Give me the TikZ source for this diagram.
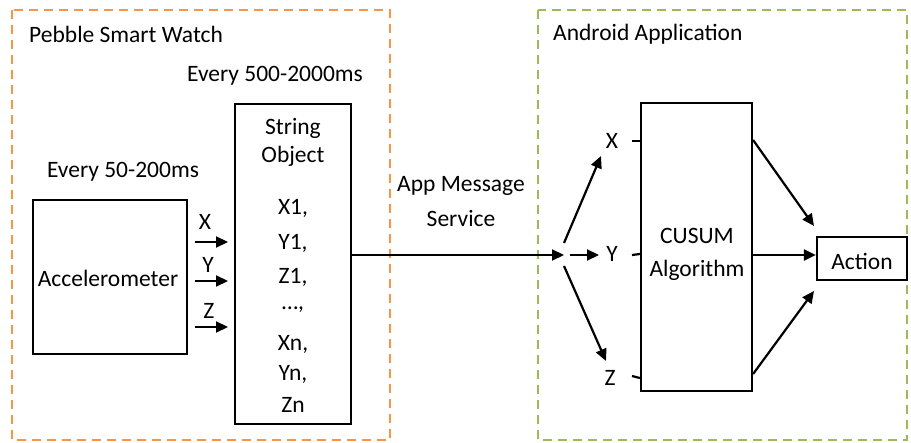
\documentclass[tikz,border=0pt]{standalone}
\usepackage{fontspec}
\setmainfont{Carlito}
\usetikzlibrary{arrows.meta,calc}
\definecolor{orangeb}{HTML}{F79646}
\definecolor{greenb}{HTML}{9BBB59}
\tikzset{
  lbl/.style={inner sep=0pt, font=\fontsize{23.5}{28}\selectfont},
  box/.style={draw, line width=2.2pt, inner sep=0pt},
  arr/.style={line width=2.2pt, -{Triangle[length=12pt,width=11pt]}},
  ln/.style={line width=2.2pt},
  region/.style={line width=2.8pt, dash pattern=on 9pt off 6pt}
}
\begin{document}
\begin{tikzpicture}[x=1pt,y=-1pt]
\useasboundingbox (0,0) rectangle (911,443);
% regions
\draw[region, orangeb] (12,10) rectangle (390,440);
\draw[region, greenb] (538,10) rectangle (907,440);
\node[lbl, anchor=west] (pebble) at (29,34) {Pebble Smart Watch};
\node[lbl, anchor=west] (android) at (553,34) {Android Application};
% left part
\node[lbl] (every500) at (275,76) {Every 500-2000ms};
\node[lbl] (every50) at (123,172) {Every 50-200ms};
\node[box, minimum width=154pt, minimum height=154pt] (acc) at (110,277) {};
\node[lbl] (acctxt) at (108,278) {Accelerometer};
\node[box, minimum width=116pt, minimum height=320pt] (str) at (293,264) {};
\node[lbl] (s1) at (293,128) {String};
\node[lbl] (s2) at (293,156) {Object};
\node[lbl] (s3) at (293,208) {X1,};
\node[lbl] (s4) at (293,243) {Y1,};
\node[lbl] (s5) at (293,277) {Z1,};
\node[lbl] (s6) at (293,310) {\ldots,};
\node[lbl] (s7) at (293,344) {Xn,};
\node[lbl] (s8) at (293,374) {Yn,};
\node[lbl] (s9) at (293,405) {Zn};
\node[lbl] (lx) at (205,222) {X};
\node[lbl] (ly) at (208,265) {Y};
\node[lbl] (lz) at (209,311) {Z};
\coordinate (ax) at (195,242);
\coordinate (ay) at (195,281);
\coordinate (az) at (195,327);
\draw[arr] (ax) -- (ax -| {(228,0)});
\draw[arr] (ay) -- (ay -| {(228,0)});
\draw[arr] (az) -- (az -| {(228,0)});
% middle
\node[lbl] (app1) at (461,186) {App Message};
\node[lbl] (app2) at (461,218) {Service};
\coordinate (fork) at (564,255);
\draw[arr] (fork -| str.east) -- (fork);
% right part
\node[box, minimum width=111pt, minimum height=288pt] (cusum) at (696.5,247) {};
\node[lbl] (c1) at (697,236) {CUSUM};
\node[lbl] (c2) at (697,270) {Algorithm};
\node[box, minimum width=90pt, minimum height=43pt] (action) at (862,258.5) {};
\node[lbl] (acttxt) at (862,261) {Action};
\node[lbl] (rx) at (612,141) {X};
\node[lbl] (ry) at (612,254) {Y};
\node[lbl] (rz) at (610,378) {Z};
\coordinate (ty) at (752,255);
\draw[arr] (570,255) -- (599,255);
\draw[arr] (564,243) -- (601,156);
\draw[arr] (564,266) -- (606,361);
\draw[ln] (632,141) -- (rx -| cusum.west);
\draw[ln] (632,255) -- (ry -| cusum.west);
\draw[ln] (632,376) -- (rz -| cusum.west);
\draw[arr] (cusum.east |- {(0,140)}) -- (814,226);
\draw[arr] (ty) -- (ty -| action.west);
\draw[arr] (cusum.east |- {(0,374)}) -- (814,291);
\end{tikzpicture}
\end{document}
